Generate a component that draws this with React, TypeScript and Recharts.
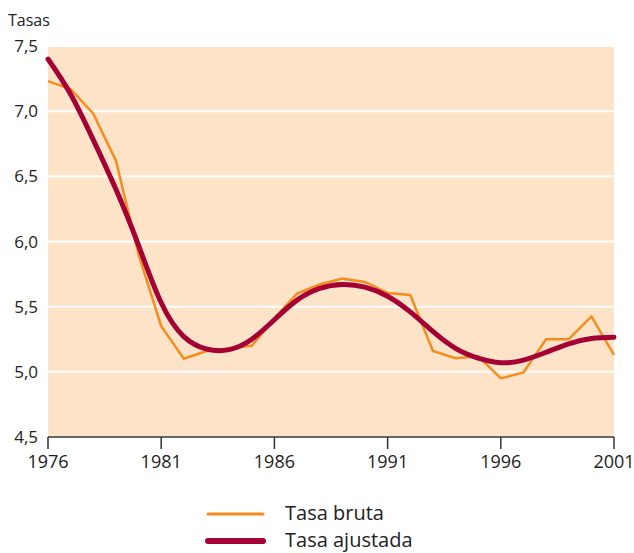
import React from "react";
import { LineChart, Line, XAxis, YAxis, CartesianGrid, Legend } from "recharts";

const years = [
  1976, 1977, 1978, 1979, 1980, 1981, 1982, 1983, 1984, 1985, 1986, 1987, 1988,
  1989, 1990, 1991, 1992, 1993, 1994, 1995, 1996, 1997, 1998, 1999, 2000, 2001,
];

const tasaBruta = [
  7.23, 7.17, 6.98, 6.62, 5.9, 5.35, 5.1, 5.16, 5.18, 5.2, 5.41, 5.6, 5.67,
  5.715, 5.69, 5.605, 5.59, 5.16, 5.105, 5.12, 4.95, 4.995, 5.25, 5.25, 5.425, 5.13,
];

const tasaAjustada = [
  7.4, 7.13, 6.78, 6.4, 5.97, 5.53, 5.27, 5.175, 5.17, 5.25, 5.4, 5.55, 5.64,
  5.67, 5.65, 5.58, 5.46, 5.31, 5.18, 5.105, 5.07, 5.09, 5.15, 5.215, 5.255, 5.265,
];

const xTicks = [1976, 1981, 1986, 1991, 1996, 2001];
const yTicks = [4.5, 5, 5.5, 6, 6.5, 7, 7.5];

const seriesNames = { bruta: "Tasa bruta", ajustada: "Tasa ajustada" };

const ORANGE = "#F68B1F";
const RED = "#A50034";
const FONT = "'Open Sans', sans-serif";

const data = years.map((year, i) => ({
  year,
  bruta: tasaBruta[i],
  ajustada: tasaAjustada[i],
}));

//legend
const CustomLegend = () => (
  <div style={{ fontFamily: FONT, fontSize: 20, color: "#222", lineHeight: "27px" }}>
    {[
      { name: seriesNames.bruta, color: ORANGE, width: 3 },
      { name: seriesNames.ajustada, color: RED, width: 6 },
    ].map((item) => (
      <div key={item.name} style={{ display: "flex", alignItems: "center", height: 27 }}>
        <svg width={80} height={27}>
          <line x1={3} y1={15} x2={58} y2={15} stroke={item.color} strokeWidth={item.width} strokeLinecap="round" />
        </svg>
        <span>{item.name}</span>
      </div>
    ))}
  </div>
);

export default function App() {
  return (
    <div style={{ position: "absolute", left: 0, top: 0, width: 634, height: 553, background: "#fff" }}>
      <div style={{ position: "absolute", left: 8, top: 9, fontFamily: FONT, fontSize: 16, color: "#222" }}>Tasas</div>
      <LineChart width={634} height={553} data={data} margin={{ top: 46, right: 20, left: 0, bottom: 30 }}>
        <CartesianGrid vertical={false} stroke="#fff" strokeWidth={2} fill="#FDE4C9" fillOpacity={1} />
        <XAxis
          dataKey="year"
          type="number"
          domain={[1976, 2001]}
          ticks={xTicks}
          height={32}
          axisLine={{ stroke: "#333", strokeWidth: 1.5 }}
          tickLine={{ stroke: "#333", strokeWidth: 1.5 }}
          tickSize={12}
          tickMargin={6}
          tick={{ fill: "#222", fontSize: 18, fontFamily: FONT }}
        />
        <YAxis
          type="number"
          domain={[4.5, 7.5]}
          ticks={yTicks}
          width={48}
          axisLine={false}
          tickLine={false}
          tickMargin={4}
          tickFormatter={(v: number) => v.toFixed(1).replace(".", ",")}
          tick={{ fill: "#222", fontSize: 17, fontFamily: FONT }}
        />
        <Line
          dataKey="bruta"
          name={seriesNames.bruta}
          type="linear"
          stroke={ORANGE}
          strokeWidth={2.5}
          dot={false}
          isAnimationActive={false}
        />
        <Line
          dataKey="ajustada"
          name={seriesNames.ajustada}
          type="natural"
          stroke={RED}
          strokeWidth={5}
          strokeLinecap="round"
          dot={false}
          isAnimationActive={false}
        />
        <Legend
          content={<CustomLegend />}
          layout="vertical"
          verticalAlign="bottom"
          height={54}
          wrapperStyle={{ left: 205, bottom: 0, width: 260 }}
        />
      </LineChart>
    </div>
  );
}
